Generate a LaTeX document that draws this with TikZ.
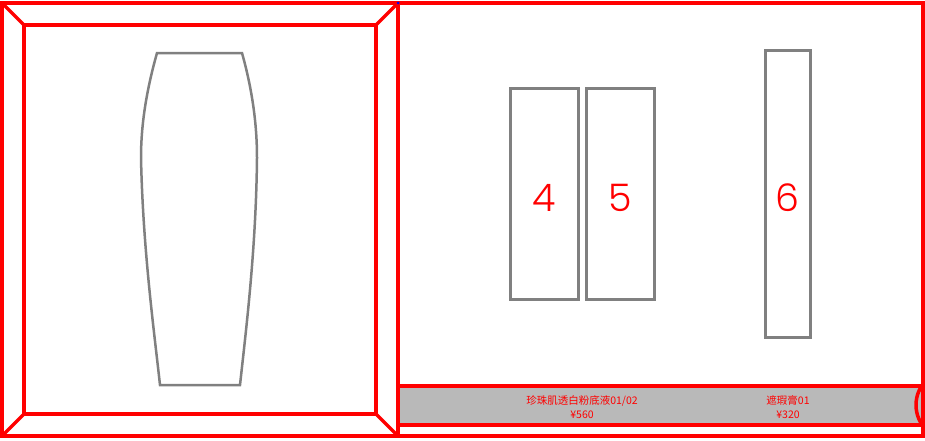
\documentclass[tikz,border=0pt]{standalone}
\usepackage{fontspec}
\newfontfamily\cjk{Noto Sans CJK SC}
\newfontfamily\geo{Poppins Light}
\begin{document}
\begin{tikzpicture}[x=1pt,y=-1pt,
  redline/.style={draw=red,line width=3.5pt},
  grayline/.style={draw=gray,line width=3pt},
  numbox/.style={grayline,minimum width=0pt},
  numlabel/.style={text=red,font=\geo\fontsize{38}{40}\selectfont,inner sep=0pt},
  pricelabel/.style={text=red,font=\cjk\fontsize{10.5}{13.5}\selectfont,align=center,inner sep=0pt}]
\useasboundingbox (0,0) rectangle (925,440);
\begin{scope}
\clip (0,0) rectangle (925,440);
% left panel
\coordinate (o1) at (2,3);
\coordinate (o2) at (398,3);
\coordinate (o3) at (398,436);
\coordinate (o4) at (2,436);
\coordinate (i1) at (24,25);
\coordinate (i2) at (376,25);
\coordinate (i3) at (376,414);
\coordinate (i4) at (24,414);
\draw[redline] (o1) -- (i1) (o2) -- (i2) (o3) -- (i3) (o4) -- (i4);
\draw[redline] (i1) rectangle (i3);
% right panel
\fill[gray!55] (399,386) rectangle (922,425);
\draw[redline] (398,386) -- (922,386) (398,425) -- (922,425);
\draw[redline] (951,405) circle[radius=35];
\draw[redline] (o1) rectangle (o3);
\draw[redline] (o2) -- (923,3) -- (923,436) -- (o3);
\fill[blue] (398,3) circle[radius=1.5];
\end{scope}
% skirt
\draw[grayline,line width=2.5pt] (157,53) -- (242,53) .. controls (251,85) and (257,120) .. (257,158)
  .. controls (256,250) and (246,330) .. (240,385) -- (160,385)
  .. controls (154,330) and (143,250) .. (141,158) .. controls (141,120) and (148,85) .. (157,53) -- cycle;
% boxes
\node[numbox,minimum width=68pt,minimum height=211pt] (b4) at (544,193.5) {};
\node[numbox,minimum width=68pt,minimum height=211pt] (b5) at (620,193.5) {};
\node[numbox,minimum width=45pt,minimum height=287pt] (b6) at (787.5,193.5) {};
\node[numlabel] (n4) at ([yshift=-4pt]b4.center) {4};
\node[numlabel] (n5) at ([yshift=-4pt]b5.center) {5};
\node[numlabel] (n6) at ([yshift=-4pt]b6.center) {6};
% strip labels
\node[pricelabel] (p1) at (582,407) {珍珠肌透白粉底液01/02\\¥560};
\node[pricelabel] (p2) at (788,407) {遮瑕膏01\\¥320};
\end{tikzpicture}
\end{document}
